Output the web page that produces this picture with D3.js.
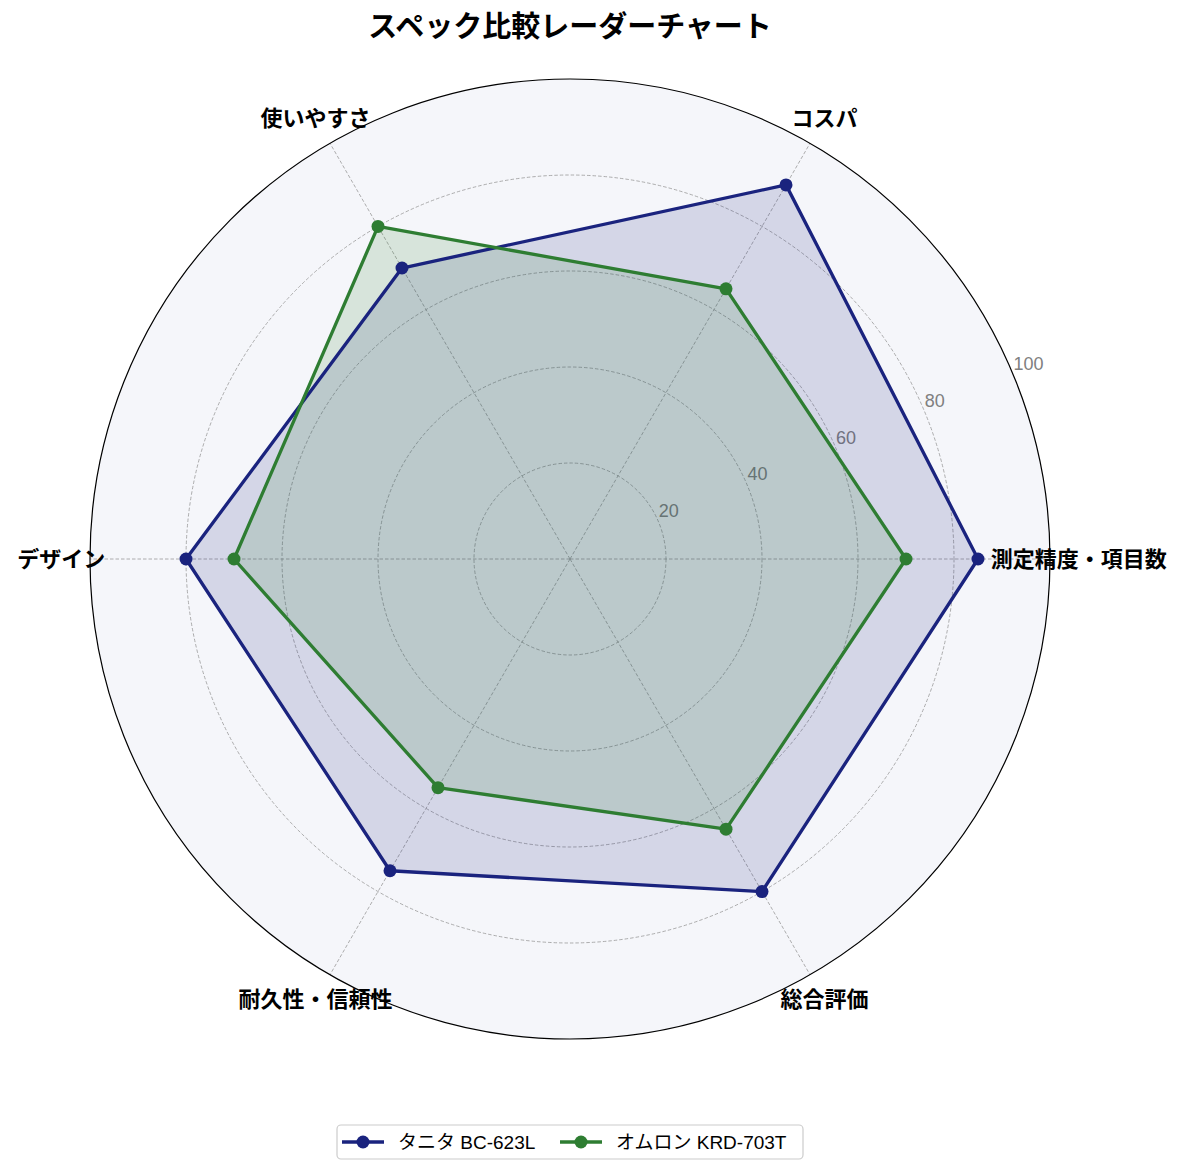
<!DOCTYPE html>
<html>
<head>
<meta charset="utf-8">
<script src="https://cdn.jsdelivr.net/npm/d3@7"></script>
<style>
  body { margin: 0; background: #fff; }
  text { font-family: "Liberation Sans", "Noto Sans CJK JP", sans-serif; }
</style>
</head>
<body>
<div id="wrapper"></div>
<script>
const categories = ["測定精度・項目数", "コスパ", "使いやすさ", "デザイン", "耐久性・信頼性", "総合評価"];
const tanitaValues = [85, 90, 70, 80, 75, 80];
const omronValues = [70, 65, 80, 70, 55, 65];
const seriesNames = ["タニタ BC-623L", "オムロン KRD-703T"];
const radialTicks = [20, 40, 60, 80, 100];

const series = [
    { name: seriesNames[0], values: tanitaValues, color: "#1a237e" },
    { name: seriesNames[1], values: omronValues, color: "#2e7d32" },
];

var dimensions = {
    width: 1184,
    height: 1174,
    cx: 570,
    cy: 559,
    radius: 480,
}

const svg = d3.select("#wrapper")
    .append("svg")
    .attr("width", dimensions.width)
    .attr("height", dimensions.height);

const bounds = svg.append("g")
    .attr("transform", `translate(${dimensions.cx},${dimensions.cy})`);

const rScaler = d3.scaleLinear()
    .domain([0, 100])
    .range([0, dimensions.radius]);

// category index -> d3 radial angle (0 = up, clockwise); first axis points right, going counterclockwise
const angleScaler = d3.scaleLinear()
    .domain([0, categories.length])
    .range([Math.PI / 2, Math.PI / 2 - 2 * Math.PI]);

const px = (i, v) => rScaler(v) * Math.sin(angleScaler(i));
const py = (i, v) => -rScaler(v) * Math.cos(angleScaler(i));

// background
bounds.append("circle")
    .attr("r", rScaler(100))
    .attr("fill", "#f5f6fa");

// grid circles
bounds.append("g").selectAll("circle")
    .data(radialTicks.slice(0, -1))
    .enter()
    .append("circle")
    .attr("r", d => rScaler(d))
    .attr("fill", "none")
    .attr("stroke", "#999")
    .attr("stroke-width", 0.8)
    .attr("stroke-dasharray", "3.5,2");

// spokes
bounds.append("g").selectAll("line")
    .data(categories)
    .enter()
    .append("line")
    .attr("x1", 0).attr("y1", 0)
    .attr("x2", (d, i) => px(i, 100))
    .attr("y2", (d, i) => py(i, 100))
    .attr("stroke", "#999")
    .attr("stroke-width", 0.8)
    .attr("stroke-dasharray", "3.5,2");

// tick labels at 22.5deg
const labelAngle = 22.5 * Math.PI / 180;
bounds.append("g").selectAll("text")
    .data(radialTicks)
    .enter()
    .append("text")
    .attr("x", d => rScaler(d) * Math.cos(labelAngle))
    .attr("y", d => -rScaler(d) * Math.sin(labelAngle) - 10)
    .attr("dominant-baseline", "middle")
    .attr("fill", "#808080")
    .attr("font-size", "18px")
    .text(d => d);

// series
const radarLine = d3.lineRadial()
    .angle((d, i) => angleScaler(i))
    .radius(d => rScaler(d))
    .curve(d3.curveLinearClosed);

series.forEach(s => {
    bounds.append("path")
        .attr("d", radarLine(s.values))
        .attr("fill", s.color)
        .attr("fill-opacity", 0.15)
        .attr("stroke", "none");
});

series.forEach(s => {
    const g = bounds.append("g");
    g.append("path")
        .attr("d", radarLine(s.values))
        .attr("fill", "none")
        .attr("stroke", s.color)
        .attr("stroke-width", 3.3)
        .attr("stroke-linejoin", "round");
    g.selectAll("circle")
        .data(s.values)
        .enter()
        .append("circle")
        .attr("cx", (d, i) => px(i, d))
        .attr("cy", (d, i) => py(i, d))
        .attr("r", 6.5)
        .attr("fill", s.color);
});

// outer circle
bounds.append("circle")
    .attr("r", rScaler(100))
    .attr("fill", "none")
    .attr("stroke", "#000")
    .attr("stroke-width", 1.2);

// category labels
bounds.append("g").selectAll("text")
    .data(categories)
    .enter()
    .append("text")
    .attr("x", (d, i) => px(i, 106))
    .attr("y", (d, i) => py(i, 106))
    .attr("text-anchor", "middle")
    .attr("dominant-baseline", "central")
    .attr("font-size", "22px")
    .attr("font-weight", "bold")
    .attr("fill", "#000")
    .text(d => d);

// title
svg.append("text")
    .attr("x", dimensions.cx)
    .attr("y", 27)
    .attr("text-anchor", "middle")
    .attr("dominant-baseline", "central")
    .attr("font-size", "29px")
    .attr("font-weight", "bold")
    .text("スペック比較レーダーチャート");

// legend
const legend = svg.append("g");
legend.append("rect")
    .attr("x", 337).attr("y", 1125)
    .attr("width", 466).attr("height", 34)
    .attr("rx", 4)
    .attr("fill", "#fff")
    .attr("stroke", "#ccc")
    .attr("stroke-width", 1.2);

const legendX = [342, 560];
series.forEach((s, i) => {
    const lg = legend.append("g").attr("transform", `translate(${legendX[i]},1142)`);
    lg.append("line")
        .attr("x1", 0).attr("x2", 42)
        .attr("stroke", s.color)
        .attr("stroke-width", 3.3);
    lg.append("circle")
        .attr("cx", 21)
        .attr("r", 6.5)
        .attr("fill", s.color);
    lg.append("text")
        .attr("x", 56)
        .attr("dominant-baseline", "central")
        .attr("font-size", "19px")
        .attr("fill", "#000")
        .text(s.name);
});
</script>
</body>
</html>
